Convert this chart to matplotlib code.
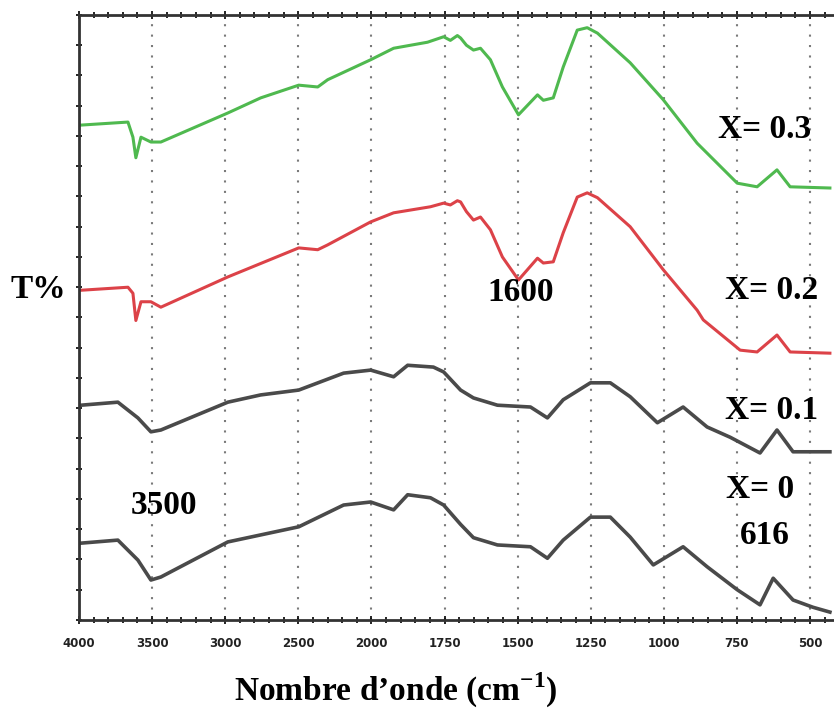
import matplotlib.pyplot as plt
import numpy as np
from matplotlib.ticker import FixedLocator, NullFormatter

plt.rcParams["font.family"] = ["Liberation Serif", "DejaVu Serif"]
plt.rcParams["mathtext.fontset"] = "custom"
plt.rcParams["mathtext.rm"] = "Liberation Serif"
plt.rcParams["mathtext.bf"] = "Liberation Serif:bold"

# spectra (wavenumber cm-1, T% arbitrary)
w_03 = [3986, 3665, 3631, 3611, 3576, 3508, 3440, 2982, 2757, 2497, 2367, 2299, 2005, 1924,
        1808, 1753, 1730, 1706, 1695, 1675, 1651, 1627, 1593, 1552, 1497, 1432, 1412, 1378,
        1344, 1296, 1262, 1227, 1115, 1002, 886, 749, 681, 613, 568, 432]
t_03 = [81.8, 82.3, 79.8, 76.4, 79.8, 79.0, 79.0, 83.8, 86.3, 88.4, 88.1, 89.3, 92.6, 94.5,
        95.5, 96.4, 95.8, 96.6, 96.2, 95.0, 94.2, 94.5, 92.6, 88.1, 83.5, 86.8, 85.9, 86.3,
        91.4, 97.5, 97.9, 97.0, 92.1, 86.0, 78.8, 72.2, 71.6, 74.4, 71.6, 71.4]

w_02 = [3986, 3665, 3631, 3611, 3576, 3508, 3440, 2982, 2497, 2367, 2299, 2005, 1924, 1798,
        1753, 1730, 1706, 1695, 1675, 1651, 1627, 1593, 1552, 1497, 1432, 1412, 1378, 1344,
        1296, 1262, 1227, 1115, 1002, 886, 865, 739, 681, 613, 568, 432]
t_02 = [54.5, 55.0, 54.0, 49.5, 52.6, 52.6, 51.7, 56.7, 61.5, 61.2, 62.0, 65.8, 67.3, 68.3,
        68.9, 68.6, 69.3, 69.1, 67.5, 66.1, 66.6, 64.5, 60.0, 56.2, 59.8, 59.0, 59.2, 64.0,
        69.9, 70.6, 69.8, 65.0, 57.9, 51.2, 49.6, 44.6, 44.3, 47.1, 44.3, 44.1]

w_01 = [3986, 3734, 3597, 3508, 3440, 2982, 2757, 2497, 2190, 2005, 1924, 1876, 1788, 1753,
        1695, 1651, 1569, 1456, 1398, 1344, 1251, 1183, 1115, 1022, 934, 852, 773, 671, 613,
        558, 432]
t_01 = [35.5, 36.0, 33.4, 31.1, 31.4, 36.0, 37.2, 38.0, 40.8, 41.3, 40.2, 42.1, 41.8, 41.0,
        38.0, 36.7, 35.5, 35.2, 33.4, 36.4, 39.2, 39.2, 36.9, 32.6, 35.2, 31.9, 30.2, 27.6, 31.4,
        27.8, 27.8]

w_00 = [3986, 3734, 3597, 3508, 3440, 2982, 2497, 2190, 2005, 1924, 1876, 1798, 1753, 1695,
        1651, 1569, 1456, 1398, 1344, 1251, 1183, 1115, 1036, 934, 852, 749, 671, 626, 558,
        490, 432]
t_00 = [12.7, 13.2, 9.9, 6.6, 7.1, 12.9, 15.4, 19.0, 19.5, 18.2, 20.7, 20.2, 19.0, 15.8,
        13.6, 12.4, 12.1, 10.2, 13.2, 17.0, 17.0, 13.7, 9.1, 12.1, 8.8, 5.0, 2.5, 6.9, 3.3,
        2.1, 1.3]

xticks = [4000, 3500, 3000, 2500, 2000, 1750, 1500, 1250, 1000, 750, 500]


# axis scale changes at 2000 cm-1 (500 per division above, 250 below)
def fwd(w):
    w = np.asarray(w, dtype=float)
    return np.where(w >= 2000, (w - 4000) / 500, -4 + (w - 2000) / 250)


def inv(p):
    p = np.asarray(p, dtype=float)
    return np.where(p >= -4, 4000 + 500 * p, 2000 + 250 * (p + 4))


fig = plt.figure(figsize=(8.34, 7.1), dpi=100)
ax = fig.add_axes([0.0947, 0.1268, 0.9053, 0.8521])
ax.set_xscale("function", functions=(fwd, inv))

ax.plot(w_03, t_03, color="#4fb94f", lw=2.2)
ax.plot(w_02, t_02, color="#dc4248", lw=2.2)
ax.plot(w_01, t_01, color="#4a4a4a", lw=2.6)
ax.plot(w_00, t_00, color="#4a4a4a", lw=2.6)

ax.xaxis.set_major_locator(FixedLocator(xticks))
ax.set_xticks(xticks)
ax.set_xticklabels([str(v) for v in xticks], family="DejaVu Sans", fontsize=8.5,
                   fontweight="bold", color="#222222")
minor = list(range(4000, 2000, -100)) + list(range(2000, 400, -50))
ax.xaxis.set_minor_locator(FixedLocator(minor))
ax.set_yticks(np.arange(0, 101, 5))
ax.yaxis.set_major_formatter(NullFormatter())
ax.set_xlim(4000, 418)
ax.set_ylim(0, 100)
ax.tick_params(axis="x", which="both", direction="inout", top=True, pad=9)
ax.tick_params(axis="x", which="major", length=6, width=1.2)
ax.tick_params(axis="x", which="minor", length=4, width=1.2)
ax.tick_params(axis="y", which="major", direction="inout", length=4, width=1.2)

for x in xticks[1:]:
    ax.axvline(x, color="#7a7a7a", lw=1.5, ls=(0, (1, 4)), zorder=0)

ax.spines["right"].set_visible(False)
for s in ["left", "top", "bottom"]:
    ax.spines[s].set_linewidth(2)
    ax.spines[s].set_color("#333333")

tkw = dict(fontsize=24, fontweight="bold", ha="center", va="center")
ax.text(654, 81.0, "X= 0.3", **tkw)
ax.text(630, 54.5, "X= 0.2", **tkw)
ax.text(630, 34.7, "X= 0.1", **tkw)
ax.text(671, 21.5, "X= 0", **tkw)
ax.text(654, 14.0, "616", **tkw)
ax.text(1490, 54.2, "1600", **tkw)
ax.text(3420, 19.0, "3500", **tkw)

fig.text(0.046, 1 - 290 / 710, "T%", fontsize=24, fontweight="bold", ha="center", va="center")
fig.text(0.474, 1 - 690 / 710, "Nombre d\u2019onde (cm$^{\\mathbf{-1}}$)", fontsize=24,
         fontweight="bold", ha="center", va="center")

plt.savefig("out.png", dpi=100)
plt.close()
